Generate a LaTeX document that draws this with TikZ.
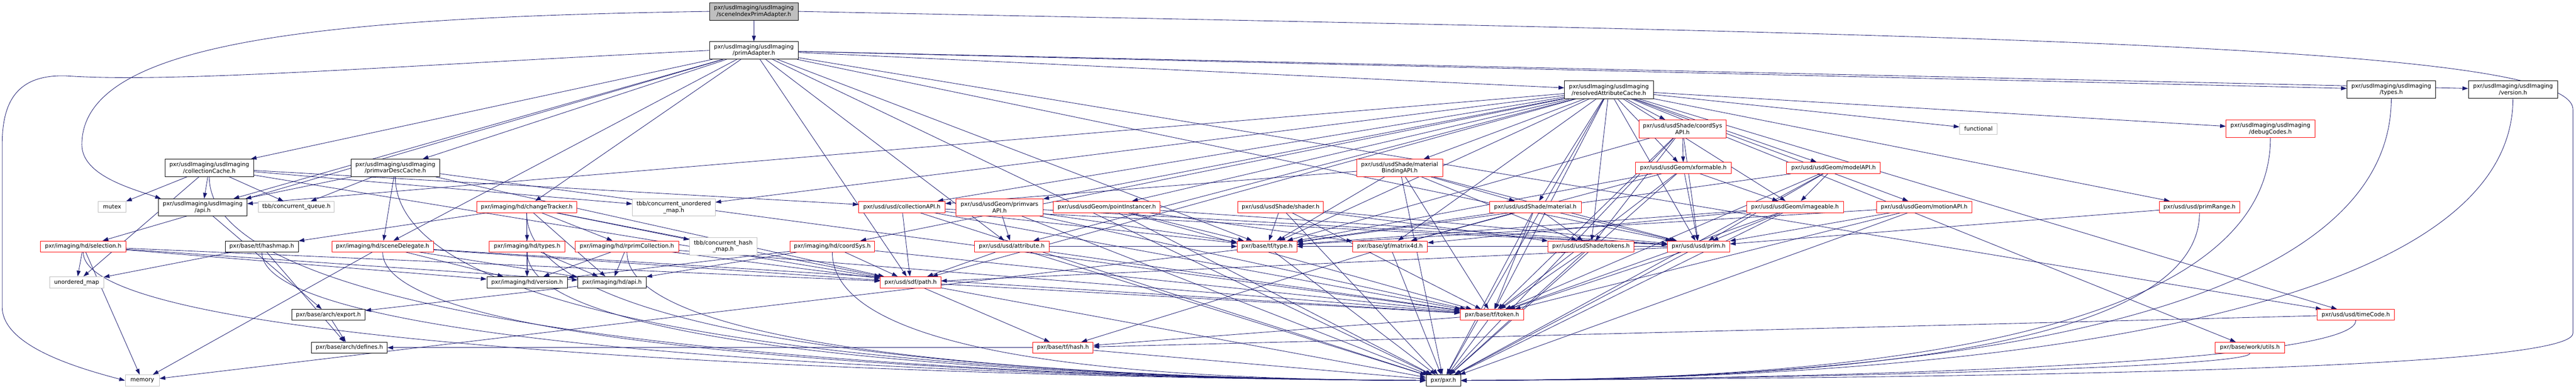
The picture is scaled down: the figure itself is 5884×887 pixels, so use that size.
\documentclass[tikz,border=0pt]{standalone}
\usepackage{fontspec}
\setmainfont{DejaVu Sans}
\usetikzlibrary{arrows.meta,backgrounds,calc}
\definecolor{edgeblue}{HTML}{191970}
\definecolor{grayb}{HTML}{BFBFBF}
\definecolor{redb}{HTML}{FF0000}
\begin{document}
\begin{tikzpicture}[x=1pt,y=1pt,
 box/.style={draw, line width=1pt, fill=white, align=center, inner sep=2pt,
   font=\fontsize{13}{14.5}\selectfont, text=black},
 blk/.style={box, draw=black},
 redn/.style={box, draw=redb},
 gry/.style={box, draw=grayb},
 rootn/.style={box, draw=black, fill=grayb},
 edge/.style={draw=edgeblue, line width=1pt, -{Triangle[length=13pt,width=9pt]}},
]
\useasboundingbox (0,0) rectangle (5884,-887);
% ---- nodes ----
\node[rootn, minimum width=203pt, minimum height=40pt] (sia) at (1722,-26) {pxr/usdImaging/usdImaging\\/sceneIndexPrimAdapter.h};
\node[blk, minimum width=203pt, minimum height=40pt] (pa) at (1722,-115) {pxr/usdImaging/usdImaging\\/primAdapter.h};
\node[blk, minimum width=203pt, minimum height=41pt] (rac) at (3675,-205) {pxr/usdImaging/usdImaging\\/resolvedAttributeCache.h};
\node[blk, minimum width=202pt, minimum height=40pt] (uitypes) at (5462,-204) {pxr/usdImaging/usdImaging\\/types.h};
\node[blk, minimum width=204pt, minimum height=40pt] (uiversion) at (5740,-204) {pxr/usdImaging/usdImaging\\/version.h};
\node[redn, minimum width=199pt, minimum height=41pt] (csapi) at (3843,-294) {pxr/usd/usdShade/coordSys\\API.h};
\node[gry, minimum width=86pt, minimum height=25pt] (functional) at (4519,-294) {functional};
\node[redn, minimum width=203pt, minimum height=40pt] (debug) at (5186,-294) {pxr/usdImaging/usdImaging\\/debugCodes.h};
\node[blk, minimum width=202pt, minimum height=40pt] (colcache) at (478,-383) {pxr/usdImaging/usdImaging\\/collectionCache.h};
\node[blk, minimum width=202pt, minimum height=40pt] (pvdc) at (903,-383) {pxr/usdImaging/usdImaging\\/primvarDescCache.h};
\node[redn, minimum width=196pt, minimum height=40pt] (mbapi) at (3197,-383) {pxr/usd/usdShade/material\\BindingAPI.h};
\node[redn, minimum width=218pt, minimum height=25pt] (xformable) at (3845,-383) {pxr/usd/usdGeom/xformable.h};
\node[redn, minimum width=214pt, minimum height=26pt] (modelapi) at (4188,-383) {pxr/usd/usdGeom/modelAPI.h};
\node[gry, minimum width=63pt, minimum height=25pt] (mutex) at (256,-472) {mutex};
\node[blk, minimum width=202pt, minimum height=39pt] (uiapi) at (463,-473) {pxr/usdImaging/usdImaging\\/api.h};
\node[gry, minimum width=173pt, minimum height=25pt] (cqueue) at (677,-472) {tbb/concurrent\_queue.h};
\node[redn, minimum width=229pt, minimum height=26pt] (ctracker) at (1203,-472) {pxr/imaging/hd/changeTracker.h};
\node[gry, minimum width=189pt, minimum height=39pt] (cumap) at (1539,-473) {tbb/concurrent\_unordered\\\_map.h};
\node[redn, minimum width=197pt, minimum height=26pt] (colapi) at (2060,-472) {pxr/usd/usd/collectionAPI.h};
\node[redn, minimum width=199pt, minimum height=39pt] (pvapi) at (2283,-473) {pxr/usd/usdGeom/primvars\\API.h};
\node[redn, minimum width=244pt, minimum height=26pt] (pinst) at (2528,-472) {pxr/usd/usdGeom/pointInstancer.h};
\node[redn, minimum width=196pt, minimum height=26pt] (shader) at (2925,-472) {pxr/usd/usdShade/shader.h};
\node[redn, minimum width=209pt, minimum height=26pt] (material) at (3507,-472) {pxr/usd/usdShade/material.h};
\node[redn, minimum width=221pt, minimum height=26pt] (imageable) at (4100,-472) {pxr/usd/usdGeom/imageable.h};
\node[redn, minimum width=218pt, minimum height=26pt] (motion) at (4395,-472) {pxr/usd/usdGeom/motionAPI.h};
\node[redn, minimum width=183pt, minimum height=26pt] (primrange) at (5024,-472) {pxr/usd/usd/primRange.h};
\node[redn, minimum width=195pt, minimum height=25pt] (selection) at (190,-562) {pxr/imaging/hd/selection.h};
\node[blk, minimum width=167pt, minimum height=25pt] (hashmap) at (598,-562) {pxr/base/tf/hashmap.h};
\node[redn, minimum width=232pt, minimum height=25pt] (sdel) at (874,-562) {pxr/imaging/hd/sceneDelegate.h};
\node[redn, minimum width=173pt, minimum height=25pt] (hdtypes) at (1204,-562) {pxr/imaging/hd/types.h};
\node[redn, minimum width=236pt, minimum height=25pt] (rprim) at (1432,-562) {pxr/imaging/hd/rprimCollection.h};
\node[gry, minimum width=154pt, minimum height=40pt] (chmap) at (1652,-562) {tbb/concurrent\_hash\\\_map.h};
\node[redn, minimum width=194pt, minimum height=25pt] (hdcoord) at (1901,-562) {pxr/imaging/hd/coordSys.h};
\node[redn, minimum width=170pt, minimum height=25pt] (attr) at (2311,-562) {pxr/usd/usd/attribute.h};
\node[redn, minimum width=136pt, minimum height=25pt] (type) at (2894,-562) {pxr/base/tf/type.h};
\node[redn, minimum width=171pt, minimum height=25pt] (matrix) at (3175,-562) {pxr/base/gf/matrix4d.h};
\node[redn, minimum width=196pt, minimum height=25pt] (sdtokens) at (3634,-562) {pxr/usd/usdShade/tokens.h};
\node[redn, minimum width=142pt, minimum height=25pt] (prim) at (3880,-562) {pxr/usd/usd/prim.h};
\node[gry, minimum width=123pt, minimum height=26pt] (umap) at (175,-644) {unordered\_map};
\node[blk, minimum width=184pt, minimum height=26pt] (hdversion) at (1204,-644) {pxr/imaging/hd/version.h};
\node[blk, minimum width=156pt, minimum height=26pt] (hdapi) at (1398,-644) {pxr/imaging/hd/api.h};
\node[redn, minimum width=138pt, minimum height=26pt] (path) at (2080,-644) {pxr/usd/sdf/path.h};
\node[blk, minimum width=168pt, minimum height=25pt] (export) at (750,-718) {pxr/base/arch/export.h};
\node[redn, minimum width=145pt, minimum height=25pt] (token) at (3408,-718) {pxr/base/tf/token.h};
\node[redn, minimum width=176pt, minimum height=25pt] (timecode) at (5381,-718) {pxr/usd/usd/timeCode.h};
\node[blk, minimum width=173pt, minimum height=25pt] (defines) at (798,-793) {pxr/base/arch/defines.h};
\node[redn, minimum width=138pt, minimum height=25pt] (hash) at (2428,-793) {pxr/base/tf/hash.h};
\node[redn, minimum width=158pt, minimum height=25pt] (workutils) at (5139,-793) {pxr/base/work/utils.h};
\node[gry, minimum width=78pt, minimum height=26pt] (memory) at (325,-868) {memory};
\node[blk, minimum width=79pt, minimum height=26pt] (pxr) at (3297,-868) {pxr/pxr.h};
% ---- edges ----
\begin{pgfonlayer}{background}
\fill[white] (0,0) rectangle (5884,-887);
\foreach \a/\b in {sia/pa,
 pa/uiapi, pa/uiversion, pa/uitypes, pa/colcache, pa/pvdc, pa/rac, pa/ctracker, pa/selection,
 pa/sdel, pa/path, pa/attr, pa/prim, pa/timecode, pa/type, pa/pxr,
 rac/uiapi, rac/pxr, rac/prim, rac/primrange, rac/sdtokens, rac/path, rac/workutils, rac/cumap,
 rac/functional, rac/xformable, rac/debug, rac/mbapi, rac/csapi, rac/hdcoord, rac/pvapi, rac/pinst,
 rac/modelapi, rac/motion, rac/imageable, rac/material, rac/colapi, rac/type, rac/token, rac/timecode,
 rac/matrix, rac/attr,
 colcache/uiapi, colcache/mutex, colcache/cqueue, colcache/umap, colcache/cumap, colcache/colapi, colcache/path,
 pvdc/uiapi, pvdc/cqueue, pvdc/sdel, pvdc/path, pvdc/token,
 ctracker/hdversion, ctracker/hdtypes, ctracker/rprim, ctracker/chmap, ctracker/hashmap, ctracker/hdapi, ctracker/path,
 hdtypes/hdversion, hdtypes/hdapi,
 rprim/hdversion, rprim/hdapi, rprim/path, rprim/token,
 selection/umap, selection/memory, selection/hdversion, selection/hdapi, selection/path,
 hashmap/umap, hashmap/defines,
 sdel/memory, sdel/hdversion, sdel/hdapi, sdel/path, sdel/token,
 hdcoord/hdapi, hdcoord/hdversion, hdcoord/path, hdcoord/token,
 hdapi/export, uiapi/export, export/defines,
 csapi/xformable, csapi/prim, csapi/sdtokens, csapi/token, csapi/type, csapi/pxr,
 mbapi/material, mbapi/colapi, mbapi/sdtokens, mbapi/prim, mbapi/token, mbapi/type, mbapi/pxr,
 xformable/imageable, xformable/prim, xformable/token, xformable/type, xformable/matrix, xformable/pxr,
 modelapi/imageable, modelapi/prim, modelapi/token, modelapi/type, modelapi/pxr,
 imageable/prim, imageable/token, imageable/type, imageable/pxr, imageable/matrix,
 motion/prim, motion/token, motion/type, motion/pxr,
 pvapi/prim, pvapi/token, pvapi/type, pvapi/pxr, pvapi/attr,
 pinst/prim, pinst/token, pinst/type, pinst/pxr, pinst/matrix,
 shader/prim, shader/sdtokens, shader/token, shader/type, shader/pxr,
 material/matrix, material/token, material/pxr, material/sdtokens, material/prim, material/type,
 colapi/path, colapi/prim, colapi/token, colapi/type, colapi/pxr,
 attr/path, attr/pxr, attr/token, attr/type,
 type/pxr, type/memory,
 matrix/pxr, matrix/hash,
 sdtokens/token, sdtokens/pxr,
 prim/path, prim/token, prim/pxr, prim/type,
 path/token, path/hash, path/pxr,
 hash/pxr, hash/defines,
 token/pxr, token/hash,
 primrange/prim, timecode/hash}
 { \draw[edge] (\a) -- (\b); }
% nodes on the left whose edge to pxr.h runs along the bottom
\foreach \a in {colcache, pvdc, selection, hashmap, sdel, ctracker, hdtypes, rprim, hdcoord}
 { \draw[edge] (\a) .. controls (\a.south |- 0,-830) and (2700,-866) .. (pxr); }
% nodes on the right whose edge to pxr.h runs along the bottom
\foreach \a in {uitypes, uiversion, debug, primrange, timecode, workutils}
 { \draw[edge] (\a) .. controls (\a.south |- 0,-842) and (3900,-866) .. (pxr); }
% long routed edges
\draw[edge] (sia.west) .. controls (700,-40) and (187,-100) .. (187,-330)
   .. controls (187,-400) and (300,-430) .. ($(uiapi.north west)+(6,0)$);
\draw[edge] (pa.west) .. controls (900,-150) and (400,-190) .. (150,-173)
   .. controls (40,-170) and (5,-230) .. (5,-330) -- (5,-700)
   .. controls (5,-790) and (180,-840) .. (memory.west);
\draw[edge] (sia.east) .. controls (4500,-80) and (5877,-100) .. (5877,-250) -- (5877,-760)
   .. controls (5877,-850) and (4300,-862) .. (pxr.east);
\end{pgfonlayer}
\end{tikzpicture}
\end{document}
